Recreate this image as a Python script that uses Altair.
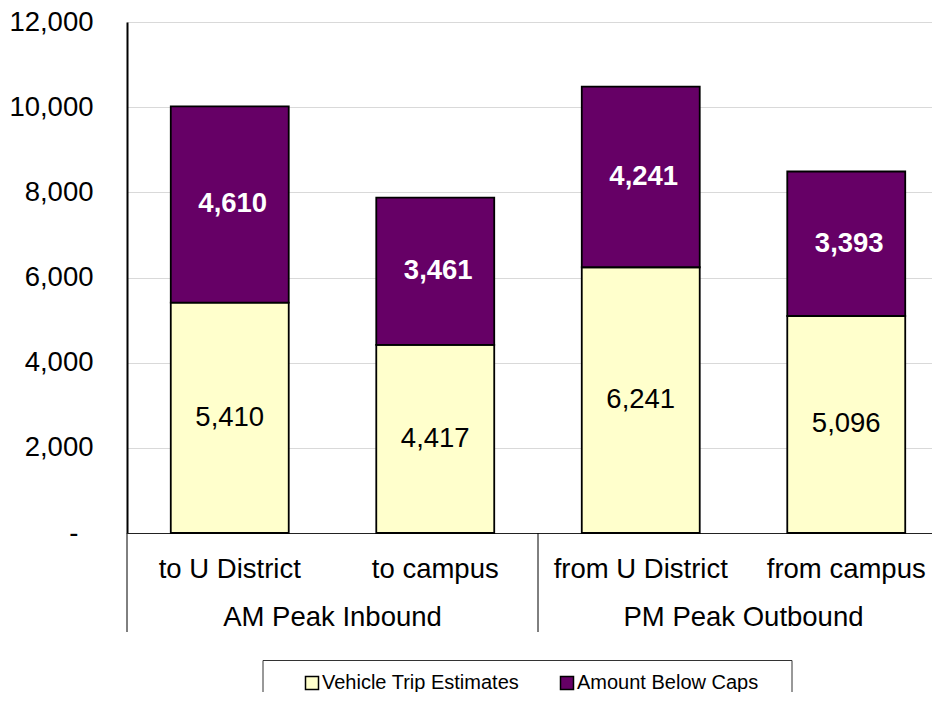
import altair as alt
import pandas as pd

categories = ["to U District", "to campus", "from U District", "from campus"]
groups = ["AM Peak Inbound", "AM Peak Inbound", "PM Peak Outbound", "PM Peak Outbound"]
group_names = ["AM Peak Inbound", "PM Peak Outbound"]
series_names = ["Vehicle Trip Estimates", "Amount Below Caps"]
vehicle_trips = [5410, 4417, 6241, 5096]
below_caps = [4610, 3461, 4241, 3393]
y_ticks = [0, 2000, 4000, 6000, 8000, 10000, 12000]
colors = ["#FFFFCC", "#660066"]

rows = []
for c, g, v, b in zip(categories, groups, vehicle_trips, below_caps):
    rows.append(dict(category=c, group=g, series=series_names[0], order=0,
                     value=v, start=0, end=v, mid=v / 2))
    rows.append(dict(category=c, group=g, series=series_names[1], order=1,
                     value=b, start=v, end=v + b, mid=v + b / 2))
df = pd.DataFrame(rows)
gdf = pd.DataFrame({"group": group_names})
box_df = pd.DataFrame({"k": [0]})

FONT = "Liberation Sans"
FS = 27.5

x_scale = alt.Scale(domain=categories, range=[0, 822], paddingInner=0.426, paddingOuter=0.213)
g_scale = alt.Scale(domain=group_names, range=[0, 822], paddingInner=0, paddingOuter=0)
y_scale = alt.Scale(domain=[0, 12000], nice=False)

y_axis = alt.Axis(title=None, values=y_ticks, ticks=False, grid=True,
                  gridColor="#d9d9d9", gridWidth=1, domainColor="black", domainWidth=2,
                  labelPadding={"condition": {"test": "datum.value == 0", "value": 49}, "value": 34},
                  labelFontSize=FS, labelFont=FONT, labelColor="black",
                  labelExpr="datum.value == 0 ? '-' : format(datum.value, ',')")

bars = alt.Chart(df).mark_bar(stroke="black", strokeWidth=1.8, opacity=1).encode(
    x=alt.X("category:N", sort=categories, scale=x_scale,
            axis=alt.Axis(title=None, labelAngle=0, ticks=False, domainColor="#222222",
                          domainWidth=1, labelPadding=22, labelFontSize=FS, labelFont=FONT,
                          labelColor="black", grid=False)),
    y=alt.Y("start:Q", scale=y_scale, axis=y_axis),
    y2="end:Q",
    color=alt.Color("series:N", scale=alt.Scale(domain=series_names, range=colors),
                    legend=alt.Legend(orient="none", legendX=175, legendY=651, direction="horizontal",
                                      title=None, symbolType="square", symbolSize=169,
                                      symbolStrokeColor="black", symbolStrokeWidth=1.5,
                                      symbolOpacity=1, labelFontSize=20, labelFont=FONT,
                                      labelColor="black", labelOffset=0, columnPadding=37,
                                      labelLimit=0, padding=0)),
    order=alt.Order("order:Q"),
)

text_low = alt.Chart(df).transform_filter(alt.datum.order == 0).mark_text(
    font=FONT, fontSize=FS, color="black", baseline="middle", align="center"
).encode(
    x=alt.X("category:N", sort=categories, scale=x_scale, axis=None),
    y=alt.Y("mid:Q", scale=y_scale, axis=y_axis),
    text=alt.Text("value:Q", format=","),
)

text_high = alt.Chart(df).transform_filter(alt.datum.order == 1).mark_text(
    font=FONT, fontSize=FS, fontWeight="bold", color="white", baseline="middle", align="center", dx=3
).encode(
    x=alt.X("category:N", sort=categories, scale=x_scale, axis=None),
    y=alt.Y("mid:Q", scale=y_scale, axis=y_axis),
    text=alt.Text("value:Q", format=","),
)

group_text = alt.Chart(gdf).mark_text(
    font=FONT, fontSize=FS, color="black", baseline="middle", align="center"
).encode(
    x=alt.X("group:N", scale=g_scale, axis=None),
    y=alt.value(596),
    text="group:N",
)

group_sep = alt.Chart(gdf).mark_rule(color="black", strokeWidth=1).encode(
    x=alt.X("group:N", scale=g_scale, axis=None, bandPosition=0),
    y=alt.value(511),
    y2=alt.value(610),
)

legend_box = alt.Chart(box_df).mark_rect(fill="white", stroke="#333333", strokeWidth=1).encode(
    x=alt.value(136), x2=alt.value(665), y=alt.value(638.5), y2=alt.value(720)
)

chart = alt.layer(
    bars, text_low, text_high, group_text, group_sep, legend_box
).resolve_scale(x="independent").properties(
    width=805, height=511,
    autosize=alt.AutoSizeParams(type="none"),
    padding={"left": 119, "top": 14, "right": 0, "bottom": 159},
    background="white",
).configure_view(stroke=None).configure(font=FONT)

chart.save("out.html", embed_options={"renderer": "svg", "actions": False})
